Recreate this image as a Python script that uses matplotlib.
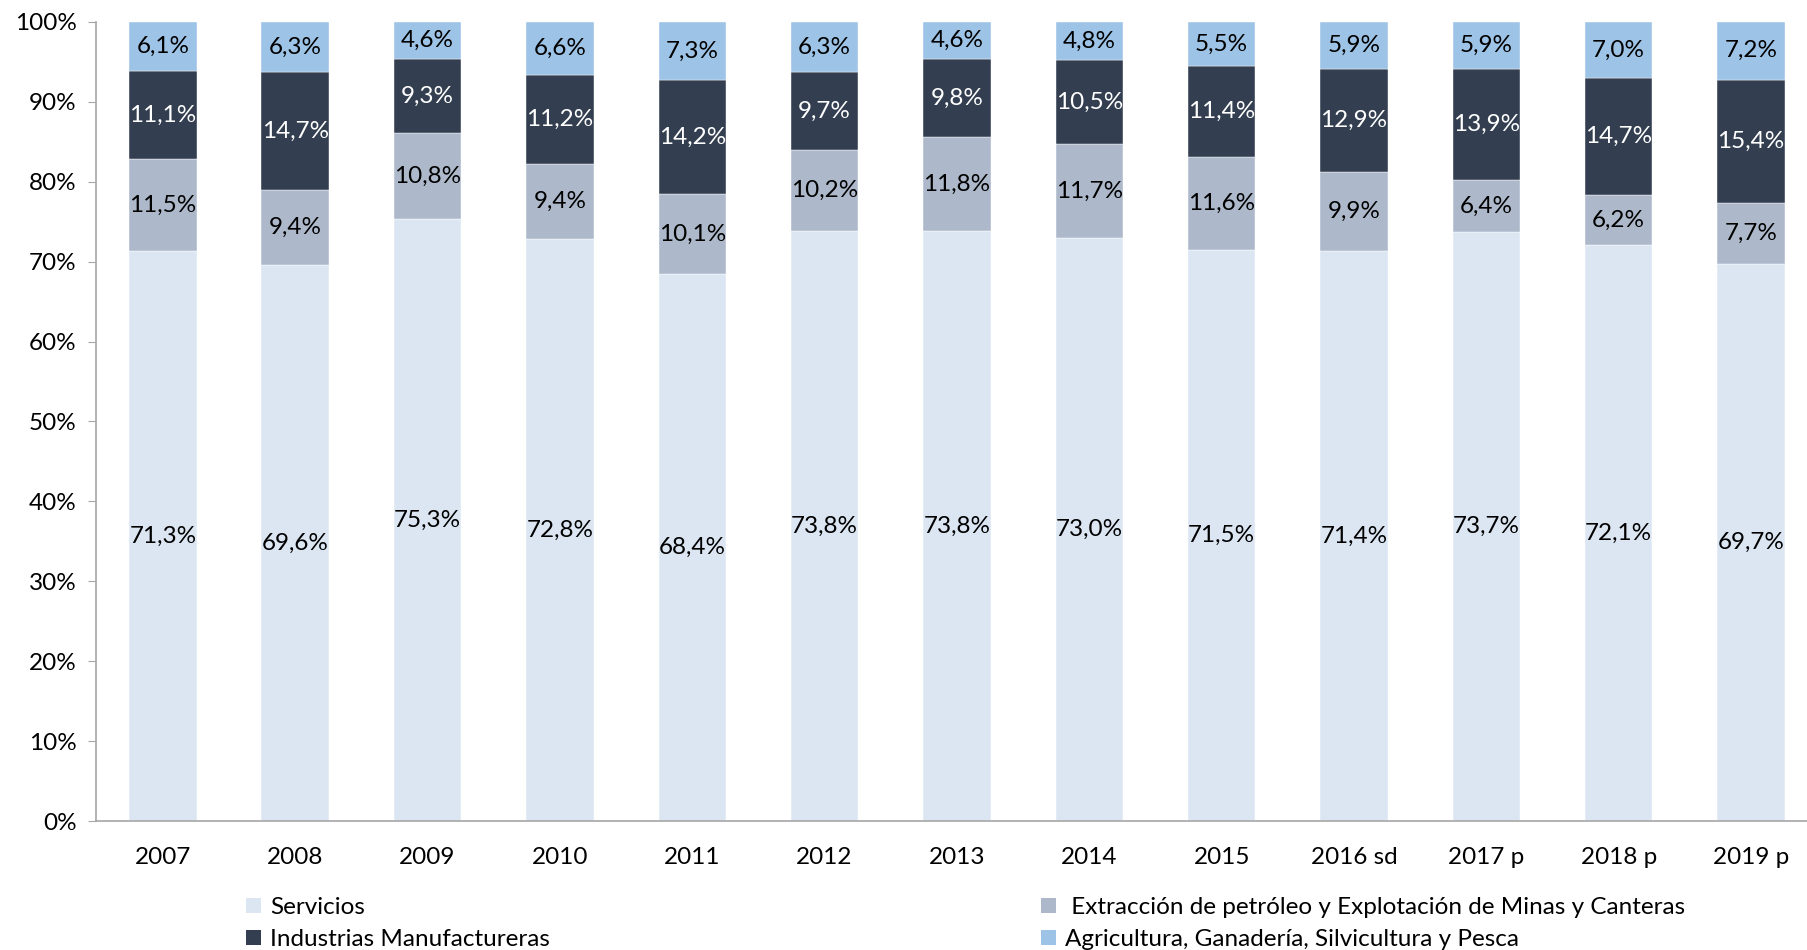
import numpy as np
import matplotlib.pyplot as plt
from matplotlib.patches import Patch
from matplotlib.ticker import PercentFormatter

plt.rcParams['font.family'] = ['Lato', 'DejaVu Sans']

years = ["2007", "2008", "2009", "2010", "2011", "2012", "2013",
         "2014", "2015", "2016 sd", "2017 p", "2018 p", "2019 p"]

servicios = [71.3, 69.6, 75.3, 72.8, 68.4, 73.8, 73.8, 73.0, 71.5, 71.4, 73.7, 72.1, 69.7]
extraccion = [11.5, 9.4, 10.8, 9.4, 10.1, 10.2, 11.8, 11.7, 11.6, 9.9, 6.4, 6.2, 7.7]
manufactura = [11.1, 14.7, 9.3, 11.2, 14.2, 9.7, 9.8, 10.5, 11.4, 12.9, 13.9, 14.7, 15.4]
agricultura = [6.1, 6.3, 4.6, 6.6, 7.3, 6.3, 4.6, 4.8, 5.5, 5.9, 5.9, 7.0, 7.2]

series = [
    ("Servicios", servicios, "#DCE6F2", "black"),
    (" Extracción de petróleo y Explotación de Minas y Canteras", extraccion, "#ADB9CA", "black"),
    ("Industrias Manufactureras", manufactura, "#333F50", "white"),
    ("Agricultura, Ganadería, Silvicultura y Pesca", agricultura, "#9DC3E6", "black"),
]

FS = 17.5
W, H = 1808, 950
fig = plt.figure(figsize=(W / 100, H / 100), dpi=100)
ax = fig.add_axes([96 / W, 1 - 821 / H, (W - 96) / W, (821 - 22) / H])

x = np.arange(len(years))
totals = np.sum([s[1] for s in series], axis=0)
bottom = np.zeros(len(years))
handles = {}
for name, vals, color, tcolor in series:
    vals = np.array(vals)
    h = vals / totals * 100  # 100% stacked
    ax.bar(x, h, 0.51, bottom=bottom, color=color, edgecolor="white", linewidth=0.3)
    for xi, b, hv, v in zip(x, bottom, h, vals):
        ax.text(xi, b + hv / 2, f"{v:.1f}%".replace(".", ","), ha="center", va="center",
                color=tcolor, fontsize=FS)
    handles[name] = Patch(facecolor=color, edgecolor="none")
    bottom += h

ax.set_xlim(-0.505, 12.43)
ax.set_ylim(0, 100)
ax.set_yticks(np.arange(0, 101, 10))
ax.yaxis.set_major_formatter(PercentFormatter(decimals=0))
ax.set_xticks(x)
ax.set_xticklabels(years)
ax.tick_params(axis="y", labelsize=FS, length=6, color="#A6A6A6", pad=8)
ax.tick_params(axis="x", labelsize=FS, length=0, pad=19)
for s in ["top", "right"]:
    ax.spines[s].set_visible(False)
for s in ["left", "bottom"]:
    ax.spines[s].set_color("#A6A6A6")
    ax.spines[s].set_linewidth(1.2)

names = [s[0] for s in series]
leg_kw = dict(frameon=False, fontsize=FS, handlelength=0.6, handleheight=0.6,
              handletextpad=0.4, labelspacing=0.45, borderaxespad=0, borderpad=0)
fig.legend([handles[names[0]], handles[names[2]]], [names[0], names[2]],
           loc="upper left", bbox_to_anchor=(246 / W, 1 - 897 / H), **leg_kw)
fig.legend([handles[names[1]], handles[names[3]]], [names[1], names[3]],
           loc="upper left", bbox_to_anchor=(1041 / W, 1 - 897 / H), **leg_kw)

fig.savefig("out.png", dpi=100)
